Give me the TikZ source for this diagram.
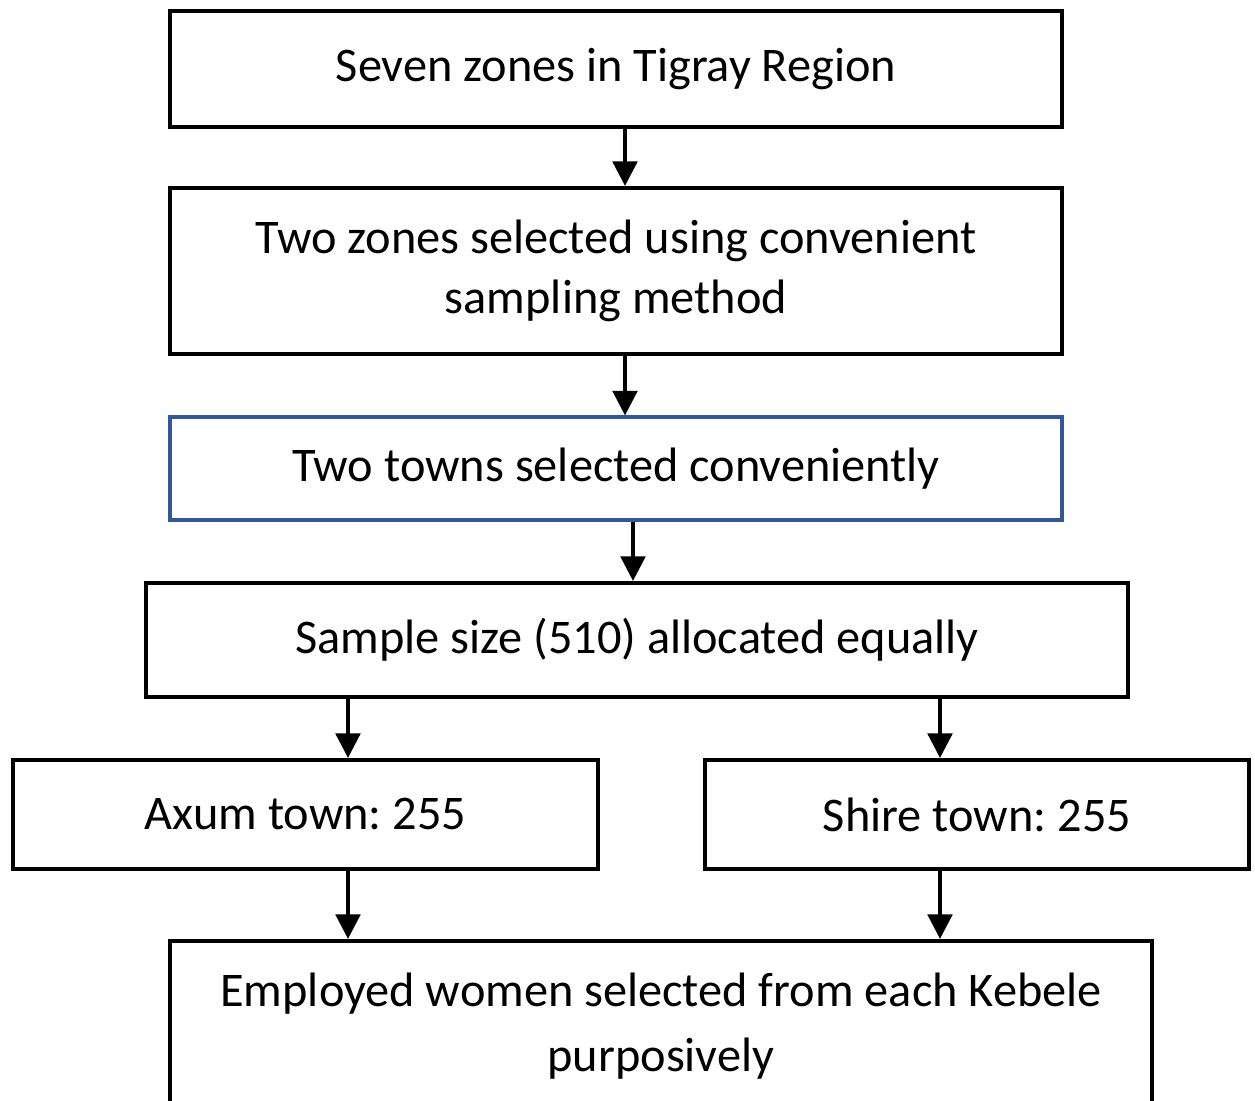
\documentclass[tikz,border=0pt]{standalone}
\usepackage{fontspec}
\setmainfont{Carlito}
\usetikzlibrary{arrows.meta, positioning}
\usepackage{xcolor}
\definecolor{boxblue}{RGB}{50,88,155}
\frenchspacing

\begin{document}
\begin{tikzpicture}[
    stepbox/.style={draw, line width=2.3pt, align=center, inner sep=0pt,
        font=\fontsize{27.5}{34}\selectfont},
    arr/.style={-{Triangle[width=14pt,length=14pt]}, line width=2pt},
    >=stealth
]
\useasboundingbox (0,0) rectangle (25.1,22.02);

% Boxes placed manually
\node[stepbox, minimum width=17.84cm, minimum height=2.32cm] (zones) at (12.32,20.64) {Seven zones in Tigray Region};
\node[stepbox, minimum width=17.84cm, minimum height=3.32cm] (twozones) at (12.32,16.6) {Two zones selected using convenient\\sampling method};
\node[stepbox, draw=boxblue, line width=1.8pt, minimum width=17.84cm, minimum height=2.06cm] (towns) at (12.32,12.65) {Two towns selected conveniently};
\node[stepbox, minimum width=19.64cm, minimum height=2.28cm] (sample) at (12.74,9.22) {Sample size (510) allocated equally};
\node[stepbox, minimum width=11.7cm, minimum height=2.18cm] (axum) at (6.11,5.73) {Axum town: 255};
\node[stepbox, minimum width=10.88cm, minimum height=2.18cm] (shire) at (19.54,5.73) {Shire town: 255};
\node[stepbox, minimum width=19.64cm, minimum height=3.4cm, font=\fontsize{27.5}{37}\selectfont] (women) at (13.22,1.5) {Employed women selected from each Kebele\\purposively};

% Arrow columns
\coordinate (c1) at (12.5,0);
\coordinate (c2) at (12.66,0);
\coordinate (cl) at (6.96,0);
\coordinate (cr) at (18.8,0);

% Arrows
\draw[arr] (zones.south -| c1) -- (twozones.north -| c1);
\draw[arr] (twozones.south -| c1) -- (towns.north -| c1);
\draw[arr] (towns.south -| c2) -- (sample.north -| c2);
\draw[arr] (sample.south -| cl) -- (axum.north -| cl);
\draw[arr] (sample.south -| cr) -- (shire.north -| cr);
\draw[arr] (axum.south -| cl) -- (women.north -| cl);
\draw[arr] (shire.south -| cr) -- (women.north -| cr);
\end{tikzpicture}
\end{document}
